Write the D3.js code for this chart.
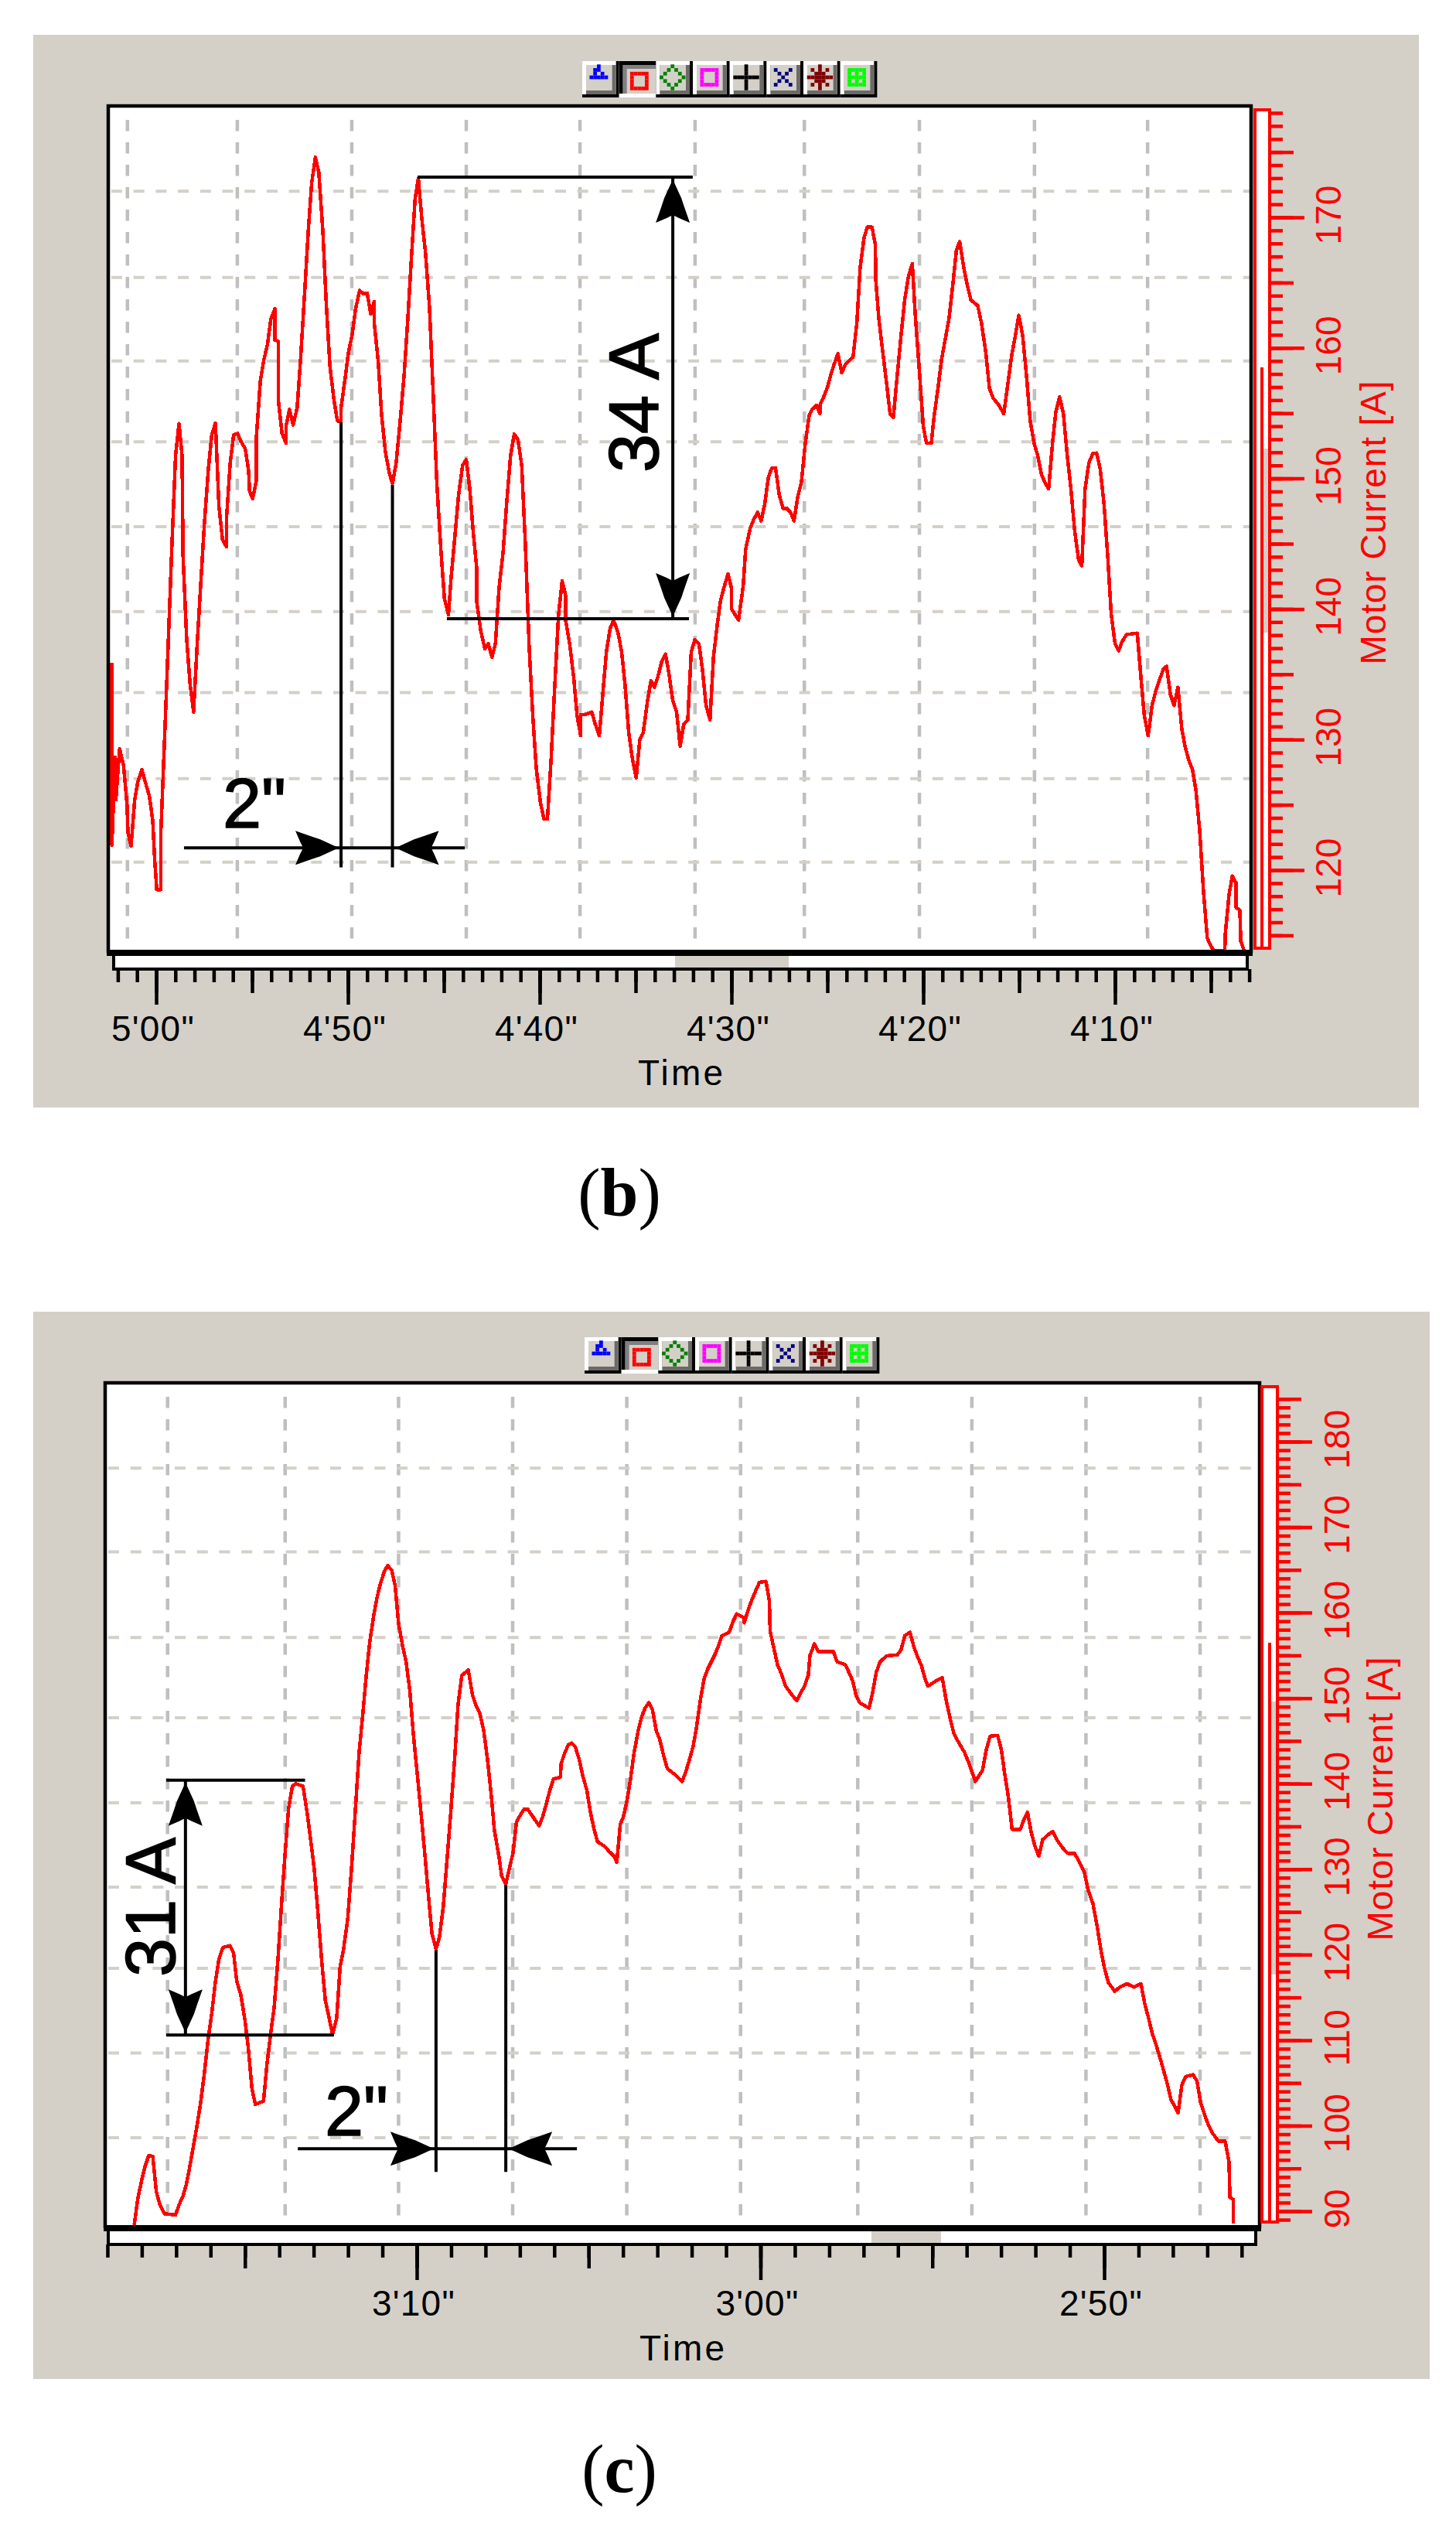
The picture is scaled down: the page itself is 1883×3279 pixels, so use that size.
<!DOCTYPE html>
<html>
<head>
<meta charset="utf-8">
<style>
  html, body { margin: 0; background: #fff; }
  svg { display: block; }
  text { font-family: "Liberation Sans", sans-serif; }
</style>
<script src="https://cdn.jsdelivr.net/npm/d3@7"></script>
</head>
<body>
<div id="plot"></div>
<script>
// Motor current traces, panel (b): time in seconds, current in amps
const timesB = [302.31,302.31,302.14,302.10,301.91,301.70,301.52,301.47,301.31,301.12,300.96,300.75,300.57,300.36,300.18,300.08,299.97,299.76,299.76,299.57,299.39,299.18,298.99,298.81,298.65,298.60,298.41,298.23,298.05,297.86,297.68,297.49,297.28,297.10,296.91,296.73,296.54,296.33,296.33,296.14,295.96,295.75,295.57,295.36,295.18,295.13,294.97,294.78,294.78,294.57,294.39,294.20,294.02,293.81,293.81,293.63,293.63,293.44,293.23,293.23,293.05,292.86,292.65,292.47,292.26,292.07,291.89,291.70,291.52,291.31,291.13,290.94,290.73,290.55,290.36,290.36,290.15,289.97,289.78,289.60,289.39,289.20,289.00,288.81,288.63,288.63,288.42,288.25,288.05,287.84,287.68,287.49,287.28,287.07,286.89,286.70,286.50,286.33,286.15,285.96,285.75,285.55,285.36,285.15,284.97,284.76,284.62,284.44,284.23,284.02,283.83,283.65,283.46,283.28,283.28,283.07,282.86,282.68,282.49,282.31,282.12,281.91,281.73,281.52,281.33,281.13,280.94,280.75,280.55,280.36,280.18,279.97,279.78,279.60,279.41,279.23,279.02,278.83,278.65,278.65,278.44,278.23,278.05,277.86,277.86,277.67,277.28,277.10,276.89,276.70,276.52,276.33,276.15,275.92,275.73,275.55,275.36,275.18,274.97,274.78,274.60,274.39,274.20,274.02,273.84,273.65,273.44,273.26,273.07,272.86,272.68,272.49,272.28,272.10,271.91,271.70,271.52,271.33,271.12,270.94,270.75,270.57,270.37,270.18,270.00,270.00,269.63,269.39,269.26,269.02,268.84,268.64,268.45,268.27,268.08,267.90,267.70,267.51,267.31,267.11,266.92,266.74,266.55,266.35,266.15,265.95,265.78,265.56,265.39,265.39,265.19,264.99,264.82,264.65,264.45,264.25,264.05,263.66,263.46,263.29,263.09,262.92,262.67,262.50,262.47,262.32,262.13,261.90,261.73,261.56,261.36,261.16,260.97,260.77,260.57,260.42,260.20,260.00,259.83,259.58,259.43,259.24,259.04,258.84,258.65,258.45,258.27,258.10,257.90,257.71,257.51,257.16,256.97,256.74,256.55,256.35,256.05,255.80,255.56,255.39,255.19,255.02,254.82,254.62,254.42,254.22,254.03,253.83,253.63,253.46,253.26,253.09,252.89,252.69,252.50,252.30,252.10,251.90,251.73,251.56,251.36,251.16,250.96,250.77,250.57,250.37,250.20,250.00,249.81,249.63,249.39,248.84,248.65,248.47,248.27,248.07,247.88,247.66,247.46,247.31,247.11,246.92,246.72,246.52,246.35,246.15,245.96,245.78,245.58,245.39,245.19,244.99,244.82,244.27,244.25,244.05,243.88,243.68,243.68,243.49,243.44,243.26];
const ampsB = [135.9,121.9,128.65,125.4,129.3,128.0,125.0,122.85,121.85,125.4,126.75,127.7,126.75,125.7,123.8,120.8,118.5,118.5,122.7,129.8,136.7,144.9,151.75,154.2,151.75,144.05,137.65,134.2,132.1,137.4,141.85,146.5,150.7,153.35,154.25,147.9,145.3,144.75,147.0,151.2,153.35,153.45,152.8,152.3,150.6,149.0,148.45,149.8,153.1,157.45,159.05,160.25,162.2,163.0,160.6,160.5,156.0,153.45,152.7,154.0,155.3,154.1,155.4,159.15,164.2,168.95,172.65,174.6,173.45,168.95,163.35,158.6,156.0,154.4,154.4,155.4,157.65,159.7,161.0,163.0,164.4,164.15,164.2,162.6,163.55,161.95,158.9,154.95,152.05,150.4,149.6,151.15,154.35,157.95,161.95,166.7,171.4,173.0,169.9,167.35,163.15,156.3,149.5,144.45,140.8,139.55,142.4,145.3,148.75,151.0,151.45,149.25,145.75,143.05,140.5,138.3,136.95,137.35,136.3,137.35,141.6,144.35,148.0,151.75,153.4,152.95,151.0,145.0,137.1,131.8,127.8,125.25,123.9,123.9,128.4,133.7,139.55,142.15,141.05,139.15,137.35,134.8,131.8,130.3,131.9,131.9,132.1,131.15,130.3,133.7,136.75,138.5,139.15,138.2,136.75,134.2,130.55,128.65,127.05,130.0,130.55,132.85,134.5,134.0,134.8,135.9,136.55,135.05,133.05,132.1,129.5,131.15,131.5,136.7,137.65,137.35,135.45,132.65,131.5,136.3,138.7,140.65,141.75,142.7,141.6,140.0,139.15,141.75,144.6,146.2,146.85,147.4,146.75,148.0,150.05,150.8,150.8,148.75,147.7,147.7,147.4,146.75,148.55,149.75,152.7,154.8,155.3,155.6,154.95,155.6,156.25,157.0,157.95,158.75,159.55,158.1,158.75,159.3,161.95,166.15,168.4,169.25,169.25,167.9,165.1,162.3,159.9,157.15,154.95,154.65,157.85,160.9,163.65,165.5,166.45,162.6,158.2,154.0,152.7,152.7,154.8,156.8,159.15,160.75,162.3,164.95,167.5,168.15,166.25,164.85,163.65,163.25,161.95,159.7,156.9,156.15,155.6,154.95,157.55,159.4,161.0,162.5,161.0,157.95,154.4,152.7,151.75,150.3,149.6,149.2,152.7,155.05,156.25,154.95,151.9,149.2,145.95,143.8,143.3,149.2,151.2,151.9,151.95,150.7,148.0,143.8,139.65,137.35,136.8,137.5,138.05,138.15,134.8,131.8,130.3,132.6,133.7,134.65,135.45,135.6,133.45,132.6,134.0,130.85,129.5,128.4,127.7,126.1,122.95,118.45,114.8,114.15,113.8,113.8,115.1,118.15,119.55,119.0,117.1,116.95,114.55,113.8];

// Motor current traces, panel (c)
const timesC = [198.22,198.12,198.00,197.90,197.80,197.68,197.58,197.47,197.34,197.02,196.90,196.80,196.70,196.60,196.49,196.39,196.29,196.18,196.07,195.96,195.86,195.76,195.64,195.43,195.33,195.24,195.12,195.00,194.90,194.80,194.70,194.46,194.36,194.26,194.15,194.04,193.93,193.83,193.73,193.62,193.52,193.31,193.18,193.08,192.98,192.88,192.76,192.66,192.55,192.45,192.33,192.23,192.13,192.01,191.91,191.79,191.68,191.57,191.47,191.37,191.26,191.16,191.06,190.95,190.85,190.73,190.63,190.53,190.41,190.31,190.20,190.10,189.98,189.87,189.76,189.66,189.56,189.44,189.34,189.23,189.12,189.01,188.90,188.80,188.69,188.50,188.38,188.28,188.16,188.05,187.94,187.84,187.74,187.61,187.53,187.41,187.20,187.10,186.99,186.88,186.77,186.65,186.44,186.34,186.24,186.13,186.02,185.82,185.80,185.70,185.59,185.49,185.39,185.27,185.17,185.05,184.95,184.84,184.74,184.53,184.40,184.26,184.18,184.08,183.99,183.89,183.78,183.68,183.56,183.46,183.36,183.25,183.14,183.03,182.93,182.81,182.71,182.50,182.28,182.18,182.07,181.96,181.86,181.74,181.64,181.53,181.43,181.33,181.23,181.12,180.91,180.80,180.69,180.47,180.47,180.36,180.25,180.14,180.03,179.84,179.74,179.72,179.60,179.50,179.39,179.27,179.16,179.05,178.94,178.83,178.72,178.61,178.56,178.43,178.32,177.88,177.77,177.54,177.43,177.32,177.21,177.10,176.84,176.74,176.63,176.52,176.33,176.02,175.91,175.80,175.65,175.54,175.43,175.32,175.21,175.13,174.88,174.71,174.60,174.48,174.37,174.26,174.07,173.93,173.75,173.54,173.43,173.32,173.10,172.99,172.90,172.79,172.68,172.44,172.33,172.23,172.12,172.01,171.90,171.79,171.64,171.50,171.38,171.20,171.06,170.86,170.72,170.58,170.47,170.33,170.21,170.10,169.99,169.88,169.69,169.55,169.34,169.14,168.93,168.82,168.71,168.60,168.49,168.38,168.27,168.16,168.06,167.85,167.74,167.63,167.41,167.30,167.19,167.08,166.97,166.86,166.68,166.48,166.37,166.34,166.24,166.24];
const ampsC = [88.4,91.4,93.7,95.3,96.5,96.4,92.3,90.7,89.7,89.55,90.9,91.8,93.2,95.3,97.8,100.1,102.65,106.15,110.1,113.3,116.8,119.4,120.85,121.05,120.2,116.95,115.3,112.35,109.0,104.5,102.5,102.85,107.1,110.5,113.8,119.4,126.2,131.9,137.1,139.7,140.0,139.7,136.3,133.2,129.9,125.1,119.0,114.65,112.6,110.65,112.6,118.6,120.65,124.15,129.45,136.7,143.55,148.15,152.65,156.5,159.5,161.7,163.35,164.75,165.5,165.0,163.15,158.7,156.05,154.25,150.8,145.8,140.9,136.3,131.5,126.9,122.5,120.65,122.05,125.55,131.05,136.7,142.75,149.2,152.65,153.3,150.4,149.2,148.15,146.15,142.75,138.95,134.5,131.5,129.2,128.25,131.9,135.5,136.3,137.0,137.0,136.3,135.05,136.1,137.5,139.2,140.55,140.75,142.35,143.55,144.55,144.75,144.35,142.75,140.9,139.2,136.7,134.65,133.2,132.65,132.05,131.5,130.8,135.25,136.1,137.9,140.55,143.55,146.15,147.8,148.8,149.5,148.6,146.15,145.15,143.15,141.75,141.1,140.25,141.3,142.75,144.35,146.6,150.0,152.25,153.45,154.25,155.05,156.05,157.3,157.7,158.95,159.85,159.4,158.8,160.3,161.5,162.55,163.55,163.65,161.3,157.85,155.65,153.85,152.85,151.4,150.8,150.2,149.7,150.6,151.4,152.65,155.0,156.35,155.45,155.45,154.25,153.95,153.05,152.05,150.2,149.4,148.85,150.6,153.05,154.25,154.95,155.05,155.65,157.3,157.7,156.05,154.85,153.85,152.25,151.4,152.05,152.4,149.8,147.6,145.8,145.0,143.7,142.35,140.25,141.55,143.95,145.55,145.65,143.95,141.3,138.5,134.65,134.65,135.85,136.65,134.25,132.65,131.5,133.45,134.0,134.4,133.45,132.45,131.85,131.85,130.8,129.7,127.6,126.0,123.45,120.65,118.4,116.75,115.7,116.2,116.6,116.2,116.6,114.25,112.6,110.75,109.45,108.0,106.45,104.85,103.1,101.5,104.75,105.75,105.95,105.2,102.65,101.3,100.1,99.2,98.2,98.2,95.8,91.6,91.35,88.55];

// Axis ticks and labels
const majorTimesB = [300, 290, 280, 270, 260, 250];
const timeLabelsB = ["5'00\"", "4'50\"", "4'40\"", "4'30\"", "4'20\"", "4'10\""];
const majorAmpsB = [120, 130, 140, 150, 160, 170];
const majorTimesC = [190, 180, 170];
const timeLabelsC = ["3'10\"", "3'00\"", "2'50\""];
const majorAmpsC = [90, 100, 110, 120, 130, 140, 150, 160, 170, 180];

// Grid positions, they do not sit on the ticks in the original software
const gridTimesB = [301.5, 295.77, 289.8, 283.83, 277.9, 271.9, 266.2, 260.2, 254.2, 248.3];
const gridAmpsB = [172, 165.4, 159, 152.8, 146.3, 139.8, 133.6, 127, 120.6];
const gridTimesC = [197.25, 193.83, 190.53, 187.21, 183.89, 180.58, 177.17, 173.85, 170.53, 167.21];
const gridAmpsC = [176.9, 167.1, 157.1, 147.7, 137.75, 127.9, 118.4, 108.5, 98.6];

// Dimension marks, in data units
const spanB = {label: "34 A", high: 173.08, low: 139.25, time: 273.06,
  highFrom: 286.37, highTo: 272.02, lowFrom: 284.84, lowTo: 272.22};
const gapB = {label: "2\"", first: 290.36, second: 287.68, amp: 121.7, from: 298.55, to: 283.91,
  firstTop: 154.3, secondTop: 149.5, bottom: 120.2};
const spanC = {label: "31 A", high: 140.4, low: 110.6, time: 196.73,
  highFrom: 197.29, highTo: 193.25, lowFrom: 197.29, lowTo: 192.41};
const gapC = {label: "2\"", first: 189.44, second: 187.41, amp: 97.3, from: 193.46, to: 185.34,
  firstTop: 120.5, secondTop: 128.15, bottom: 94.6};

const panelB = {
  times: timesB, amps: ampsB, majorTimes: majorTimesB, timeLabels: timeLabelsB, majorAmps: majorAmpsB,
  gridTimes: gridTimesB, gridAmps: gridAmpsB, span: spanB, gap: gapB, caption: "b",
  bg: {x: 43, y: 45, w: 1792, h: 1387},
  plot: {l: 140, r: 1618, t: 137, b: 1232},
  xMap: {domain: [300, 250], range: [202, 1442]},
  yMap: {domain: [120, 170], range: [1125, 281]},
  strip: {l: 147, r: 1613, b: 1253, thumbL: 873, thumbR: 1020},
  tickRange: [302, 243], ampRange: [115, 178],
  band: {l: 1623, r: 1642, t: 142, b: 1226, inner: 1632, innerTop: 475, thumbT: 580, thumbB: 818},
  tickLabelY: 1346, timeX: 880, timeY: 1403,
  ampLabelX: 1734, titleX: 1792, titleY: 676,
  spanText: {x: 851, y: 521}, gapText: {x: 288, y: 1070},
  tool: {x: 753, y: 79}, captionX: 801, captionY: 1572
};

const panelC = {
  times: timesC, amps: ampsC, majorTimes: majorTimesC, timeLabels: timeLabelsC, majorAmps: majorAmpsC,
  gridTimes: gridTimesC, gridAmps: gridAmpsC, span: spanC, gap: gapC, caption: "c",
  bg: {x: 43, y: 1696, w: 1806, h: 1380},
  plot: {l: 136, r: 1629, t: 1788, b: 2881},
  xMap: {domain: [190, 170], range: [539, 1428]},
  yMap: {domain: [90, 180], range: [2859, 1864]},
  strip: {l: 140, r: 1624, b: 2902, thumbL: 1127, thumbR: 1217},
  tickRange: [199, 166], ampRange: [89, 185],
  band: {l: 1632, r: 1652, t: 1793, b: 2873, inner: 1642, innerTop: 2124, thumbT: 2200, thumbB: 2553},
  tickLabelY: 2994, timeX: 882, timeY: 3052,
  ampLabelX: 1745, titleX: 1801, titleY: 2326,
  spanText: {x: 226, y: 2466}, gapText: {x: 420, y: 2761},
  tool: {x: 756, y: 1729}, captionX: 801, captionY: 3222
};

const PANEL_GRAY = "#d4d0c8";
const RED = "#ff0000";

const svg = d3.select("#plot").append("svg")
  .attr("width", 1883)
  .attr("height", 3279)
  .attr("viewBox", "0 0 1883 3279");

// Toolbar icons, drawn from little bitmaps like the real buttons
const toolIcons = [
  {color: "#0000ff", rows: ["...#...", "..##...", "..#.#..", ".#####.", ".......", ".......", "......."]},
  {color: "#ff0000", rows: [".......", ".#####.", ".#...#.", ".#...#.", ".#...#.", ".#####.", "......."]},
  {color: "#008000", rows: ["...#...", "..#.#..", ".#...#.", "#.....#", ".#...#.", "..#.#..", "...#..."]},
  {color: "#ff00ff", rows: [".......", ".#####.", ".#...#.", ".#...#.", ".#...#.", ".#####.", "......."]},
  {color: "#000000", rows: ["...#...", "...#...", "...#...", "#######", "...#...", "...#...", "...#..."]},
  {color: "#000080", rows: [".......", ".#...#.", "..#.#..", "...#...", "..#.#..", ".#...#.", "......."]},
  {color: "#800000", rows: ["...#...", ".#.#.#.", "..###..", "#######", "..###..", ".#.#.#.", "...#..."]},
  {color: "#00ff00", rows: [".......", ".#####.", ".#.#.#.", ".#####.", ".#.#.#.", ".#####.", "......."]}
];

function drawToolbar(g, pos) {
  const bw = 47.67, bh = 47, unit = 4.77;
  const bar = g.append("g").attr("transform", `translate(${pos.x},${pos.y})`);
  toolIcons.forEach((icon, i) => {
    const b = bar.append("g").attr("transform", `translate(${i * bw},0)`);
    const pressed = i === 1;
    if (pressed) {
      b.append("rect").attr("width", bw).attr("height", bh).attr("fill", "#fff");
      b.append("rect").attr("width", bw).attr("height", 5).attr("fill", "#000");
      b.append("rect").attr("width", 5).attr("height", bh - 5).attr("fill", "#000");
      b.append("rect").attr("x", 5).attr("y", 5).attr("width", bw - 5).attr("height", bh - 10).attr("fill", "#808080");
      b.append("rect").attr("x", 10).attr("y", 10).attr("width", bw - 10).attr("height", bh - 15).attr("fill", PANEL_GRAY);
    } else {
      b.append("rect").attr("width", bw).attr("height", bh).attr("fill", "#000");
      b.append("rect").attr("width", bw - 4).attr("height", bh - 4).attr("fill", "#fff");
      b.append("rect").attr("x", 5).attr("y", 5).attr("width", bw - 9).attr("height", bh - 9).attr("fill", "#6b6a66");
      b.append("rect").attr("x", 5).attr("y", 5).attr("width", bw - 14).attr("height", bh - 14).attr("fill", PANEL_GRAY);
    }
    const shift = pressed ? unit : 0;
    icon.rows.forEach((row, r) => {
      row.split("").forEach((c, k) => {
        if (c !== "#") return;
        b.append("rect")
          .attr("x", 4.7 + shift + k * unit)
          .attr("y", 4.3 + shift + r * unit)
          .attr("width", unit)
          .attr("height", unit)
          .attr("fill", icon.color);
      });
    });
  });
}

// Arrow heads point to +x from the tip at 0,0 when angle is 0
const arrowShape = "M0,0 L-24,-11 L-36,-15 L-56,-22 L-50,-8 L-46,0 L-50,8 L-56,22 L-36,15 L-24,11 Z";

function drawArrow(g, x, y, angle) {
  g.append("path")
    .attr("d", arrowShape)
    .attr("transform", `translate(${x},${y}) rotate(${angle})`)
    .attr("fill", "#000");
}

function blackLine(g, x1, y1, x2, y2) {
  g.append("line")
    .attr("x1", x1).attr("y1", y1)
    .attr("x2", x2).attr("y2", y2)
    .attr("stroke", "#000")
    .attr("stroke-width", 4);
}

function drawPanel(cfg) {
  const g = svg.append("g");
  const {plot, strip, band} = cfg;

  const x = d3.scaleLinear().domain(cfg.xMap.domain).range(cfg.xMap.range);
  const y = d3.scaleLinear().domain(cfg.yMap.domain).range(cfg.yMap.range);

  g.append("rect")
    .attr("x", cfg.bg.x).attr("y", cfg.bg.y)
    .attr("width", cfg.bg.w).attr("height", cfg.bg.h)
    .attr("fill", PANEL_GRAY);

  drawToolbar(g, cfg.tool);

  // Plot area
  g.append("rect")
    .attr("x", plot.l).attr("y", plot.t)
    .attr("width", plot.r - plot.l).attr("height", plot.b - plot.t)
    .attr("fill", "#fff");

  // Grid
  g.append("g").selectAll("line").data(cfg.gridTimes).join("line")
    .attr("x1", d => x(d)).attr("x2", d => x(d))
    .attr("y1", plot.t + 18).attr("y2", plot.b)
    .attr("stroke", "#bfbfbf")
    .attr("stroke-width", 4.5)
    .attr("stroke-dasharray", "14.5 14.5");

  g.append("g").selectAll("line").data(cfg.gridAmps).join("line")
    .attr("x1", plot.l + 4).attr("x2", plot.r)
    .attr("y1", d => y(d)).attr("y2", d => y(d))
    .attr("stroke", PANEL_GRAY)
    .attr("stroke-width", 4)
    .attr("stroke-dasharray", "14 14.7");

  // Trace, aliased on purpose to keep the jagged screen look
  const clipId = "clip-" + cfg.caption;
  svg.append("clipPath").attr("id", clipId).append("rect")
    .attr("x", plot.l).attr("y", plot.t)
    .attr("width", plot.r - plot.l).attr("height", plot.b - plot.t);

  const line = d3.line()
    .x(d => x(d[0]))
    .y(d => y(d[1]));

  g.append("path")
    .datum(d3.zip(cfg.times, cfg.amps))
    .attr("clip-path", `url(#${clipId})`)
    .attr("d", line)
    .attr("fill", "none")
    .attr("stroke", RED)
    .attr("stroke-width", 4.5)
    .attr("stroke-linejoin", "round")
    .attr("shape-rendering", "crispEdges");

  // Dimension marks
  const span = cfg.span, gap = cfg.gap;
  blackLine(g, x(span.highFrom), y(span.high), x(span.highTo), y(span.high));
  blackLine(g, x(span.lowFrom), y(span.low), x(span.lowTo), y(span.low));
  blackLine(g, x(span.time), y(span.high), x(span.time), y(span.low));
  drawArrow(g, x(span.time), y(span.high) + 3, -90);
  drawArrow(g, x(span.time), y(span.low) - 3, 90);

  blackLine(g, x(gap.first), y(gap.firstTop), x(gap.first), y(gap.bottom));
  blackLine(g, x(gap.second), y(gap.secondTop), x(gap.second), y(gap.bottom));
  blackLine(g, x(gap.from), y(gap.amp), x(gap.to), y(gap.amp));
  drawArrow(g, x(gap.first) - 3, y(gap.amp), 0);
  drawArrow(g, x(gap.second) + 4, y(gap.amp), 180);

  g.append("text")
    .attr("transform", `translate(${cfg.spanText.x},${cfg.spanText.y}) rotate(-90)`)
    .attr("text-anchor", "middle")
    .attr("font-size", 90)
    .attr("stroke", "#000")
    .attr("stroke-width", 1.5)
    .text(span.label);

  g.append("text")
    .attr("x", cfg.gapText.x).attr("y", cfg.gapText.y)
    .attr("font-size", 90)
    .attr("stroke", "#000")
    .attr("stroke-width", 1.5)
    .text(gap.label);

  // Plot frame: thin left/top/right, heavy bottom
  g.append("path")
    .attr("d", `M${plot.l},${plot.b}V${plot.t}H${plot.r}V${plot.b}`)
    .attr("fill", "none")
    .attr("stroke", "#000")
    .attr("stroke-width", 4.5);
  g.append("rect")
    .attr("x", plot.l - 2).attr("y", plot.b - 4)
    .attr("width", plot.r - plot.l + 4).attr("height", 8)
    .attr("fill", "#000");

  // Time scroll strip
  g.append("rect")
    .attr("x", strip.l).attr("y", plot.b + 2)
    .attr("width", strip.r - strip.l).attr("height", strip.b - plot.b - 2)
    .attr("fill", "#fff").attr("stroke", "#000").attr("stroke-width", 4);
  g.append("rect")
    .attr("x", strip.thumbL).attr("y", plot.b + 4)
    .attr("width", strip.thumbR - strip.thumbL).attr("height", strip.b - plot.b - 6)
    .attr("fill", PANEL_GRAY);

  // Time ticks: seconds, fives, tens
  const secs = d3.range(cfg.tickRange[0], cfg.tickRange[1] - 1, -1);
  const axisLevels = [
    {values: secs, size: 17},
    {values: secs.filter(d => d % 5 === 0), size: 31},
    {values: cfg.majorTimes, size: 46}
  ];
  axisLevels.forEach(level => {
    const ax = g.append("g")
      .attr("transform", `translate(0,${strip.b})`)
      .call(d3.axisBottom(x).tickValues(level.values).tickSize(level.size).tickFormat(""));
    ax.select(".domain").remove();
    ax.selectAll("line").attr("stroke", "#000").attr("stroke-width", 4.5);
  });

  g.append("g").selectAll("text").data(cfg.majorTimes).join("text")
    .attr("x", d => x(d) - 4)
    .attr("y", cfg.tickLabelY)
    .attr("text-anchor", "middle")
    .attr("font-size", 46)
    .attr("letter-spacing", 1.2)
    .attr("fill", "#000")
    .text((d, i) => cfg.timeLabels[i]);

  g.append("text")
    .attr("x", cfg.timeX).attr("y", cfg.timeY)
    .attr("text-anchor", "middle")
    .attr("font-size", 46)
    .attr("textLength", 110)
    .attr("fill", "#000")
    .text("Time");

  // Current scroll band
  g.append("rect")
    .attr("x", band.l).attr("y", band.t)
    .attr("width", band.r - band.l).attr("height", band.b - band.t)
    .attr("fill", "#fff").attr("stroke", RED).attr("stroke-width", 4);
  g.append("rect")
    .attr("x", band.inner).attr("y", band.thumbT)
    .attr("width", band.r - band.inner - 2).attr("height", band.thumbB - band.thumbT)
    .attr("fill", PANEL_GRAY);
  g.append("line")
    .attr("x1", band.inner).attr("x2", band.inner)
    .attr("y1", band.innerTop).attr("y2", band.b)
    .attr("stroke", RED).attr("stroke-width", 4);

  // Current ticks: amps, fives, tens
  const ampTicks = d3.range(cfg.ampRange[0], cfg.ampRange[1] + 1);
  const ampLevels = [
    {values: ampTicks, size: 17},
    {values: ampTicks.filter(d => d % 5 === 0), size: 31},
    {values: cfg.majorAmps, size: 45}
  ];
  ampLevels.forEach(level => {
    const ax = g.append("g")
      .attr("transform", `translate(${band.r},0)`)
      .call(d3.axisRight(y).tickValues(level.values).tickSize(level.size).tickFormat(""));
    ax.select(".domain").remove();
    ax.selectAll("line").attr("stroke", RED).attr("stroke-width", 4.5);
  });

  g.append("g").selectAll("text").data(cfg.majorAmps).join("text")
    .attr("transform", d => `translate(${cfg.ampLabelX},${y(d) - 3}) rotate(-90)`)
    .attr("text-anchor", "middle")
    .attr("font-size", 46)
    .attr("fill", RED)
    .text(d => d);

  g.append("text")
    .attr("transform", `translate(${cfg.titleX},${cfg.titleY}) rotate(-90)`)
    .attr("text-anchor", "middle")
    .attr("font-size", 46)
    .attr("textLength", 367)
    .attr("fill", RED)
    .text("Motor Current [A]");

  // Caption under the panel
  const cap = g.append("text")
    .attr("x", cfg.captionX).attr("y", cfg.captionY)
    .attr("text-anchor", "middle")
    .attr("font-size", 88)
    .style("font-family", '"Liberation Serif", serif')
    .attr("fill", "#000");
  cap.append("tspan").text("(");
  cap.append("tspan").attr("font-weight", "bold").text(cfg.caption);
  cap.append("tspan").text(")");
}

drawPanel(panelB);
drawPanel(panelC);
</script>
</body>
</html>
